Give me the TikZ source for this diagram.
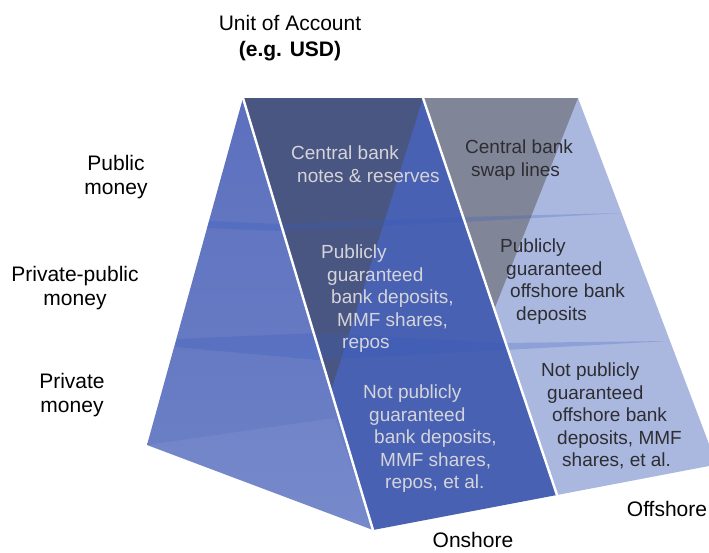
\documentclass[tikz,border=0pt]{standalone}
\usepackage{fontspec}
\setmainfont{Liberation Sans}
\usetikzlibrary{positioning, calc}
\definecolor{sideblue}{RGB}{92,112,190}
\definecolor{sidelight}{RGB}{110,130,200}
\definecolor{frontblue}{RGB}{72,97,178}
\definecolor{darkslate}{RGB}{74,86,130}
\definecolor{offblue}{RGB}{170,184,224}
\definecolor{offgray}{RGB}{128,133,152}
\definecolor{bandblue}{RGB}{55,90,190}
\definecolor{ontext}{RGB}{212,212,218}
\definecolor{offtext}{RGB}{45,45,50}
\tikzstyle{face} = [draw=none]
\tikzstyle{edge} = [white, line width=2.4pt]
\tikzstyle{band} = [fill=bandblue, opacity=0.25]
\tikzstyle{axis} = [font=\fontsize{21}{24}\selectfont, align=center, inner sep=0pt]
\tikzstyle{onlabel} = [font=\fontsize{19}{22.5}\selectfont, align=left, anchor=north west,
 inner sep=0pt, text=ontext]
\tikzstyle{offlabel} = [onlabel, text=offtext]

\begin{document}
\begin{tikzpicture}[x=1pt, y=-1pt]
\useasboundingbox (0,0) rectangle (709,552);

% Corners of the prism
\coordinate (TOPL) at (243,98);
\coordinate (TOPM) at (423,98);
\coordinate (TOPR) at (578,98);
\coordinate (LEFTB) at (147,445);
\coordinate (FRONTL) at (373,530);
\coordinate (FRONTR) at (557,495);
\coordinate (RIGHTU) at (709,444);
\coordinate (RIGHTB) at (709,466);
\coordinate (DARKTIP) at (331,391);
\coordinate (GRAYTIP) at (494,310);

% Faces
\shade[face, top color=sideblue, bottom color=sidelight] (TOPL) -- (LEFTB) -- (FRONTL) -- cycle;
\fill[white, opacity=0.06] (LEFTB) -- (335,418) -- (FRONTL) -- cycle;
\fill[face, frontblue] (TOPL) -- (TOPM) -- (FRONTR) -- (FRONTL) -- cycle;
\fill[face, darkslate] (TOPL) -- (TOPM) -- (DARKTIP) -- cycle;
\fill[face, offblue] (TOPM) -- (TOPR) -- (RIGHTU) -- (RIGHTB) -- (FRONTR) -- cycle;
\fill[face, offgray] (TOPM) -- (TOPR) -- (GRAYTIP) -- cycle;

% Layer bands
\fill[band] (209,221) -- (280,224) -- (463,217) -- (622,213) -- (463,222) -- (281,231) -- (207,228) -- cycle;
\fill[band] (177,339) -- (316,333) -- (505,343) -- (668,341) -- (505,350) -- (318,360) -- (175,347) -- cycle;

% Edges
\draw[edge] (TOPL) -- (FRONTL);
\draw[edge] (TOPM) -- (FRONTR);

% Axis labels
\node (UNIT) [axis] at (290,23) {Unit of Account};
\node (USD) [axis, font=\fontsize{21}{24}\selectfont\bfseries, below=10pt of UNIT] {(e.g. USD)};
\node (PUBLIC) [axis] at (116,177) {Public\\money};
\node (PRIVPUB) [axis] at (75,288) {Private-public\\money};
\node (PRIVATE) [axis] at (72,395) {Private\\money};
\node (ONSHORE) [axis] at (473,540) {Onshore};
\node (OFFSHORE) [axis] at (667,509) {Offshore};

% Onshore layers
\node (CBNOTES) [onlabel] at (291,146) {Central bank\\\hspace*{6pt}notes \& reserves};
\node (PUBDEP) [onlabel] at (321,245) {Publicly\\\hspace*{6pt}guaranteed\\\hspace*{10pt}bank deposits,\\
 \hspace*{16pt}MMF shares,\\\hspace*{21pt}repos};
\node (PRIVDEP) [onlabel] at (363,385) {Not publicly\\\hspace*{6pt}guaranteed\\\hspace*{11pt}bank deposits,\\
 \hspace*{17pt}MMF shares,\\\hspace*{22pt}repos, et al.};

% Offshore layers
\node (SWAP) [offlabel] at (465,140) {Central bank\\\hspace*{6pt}swap lines};
\node (OFFPUB) [offlabel] at (500,239) {Publicly\\\hspace*{6pt}guaranteed\\\hspace*{10pt}offshore bank\\
 \hspace*{16pt}deposits};
\node (OFFPRIV) [offlabel] at (541,363) {Not publicly\\\hspace*{6pt}guaranteed\\\hspace*{11pt}offshore bank\\
 \hspace*{16pt}deposits, MMF\\\hspace*{21pt}shares, et al.};

\end{tikzpicture}
\end{document}
